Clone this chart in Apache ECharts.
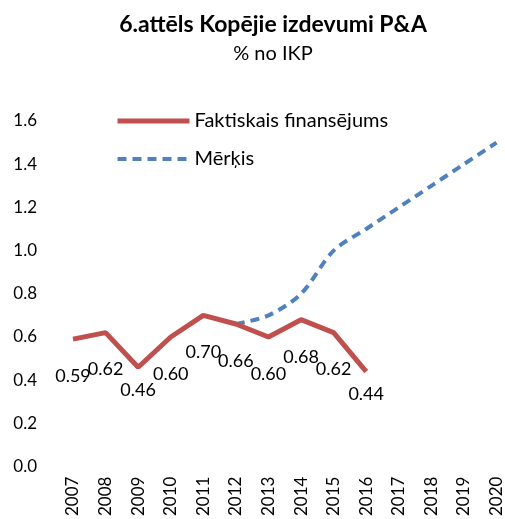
<!DOCTYPE html>
<html>
<head>
<meta charset="utf-8">
<script src="https://cdn.jsdelivr.net/npm/echarts@6/dist/echarts.min.js"></script>
<style>
  html, body { margin: 0; padding: 0; background: #fff; }
  #chart { width: 505px; height: 519px; }
</style>
</head>
<body>
<div id="chart"></div>
<script>
// 数据
const years = ["2007", "2008", "2009", "2010", "2011", "2012", "2013",
  "2014", "2015", "2016", "2017", "2018", "2019", "2020"];
const actual = [0.59, 0.62, 0.46, 0.60, 0.70, 0.66, 0.60, 0.68, 0.62, 0.44,
  null, null, null, null];
const target = [null, null, null, null, null, 0.66, 0.70, 0.80, 1.00, 1.10,
  1.20, 1.30, 1.40, 1.50];
const yTicks = [0, 0.2, 0.4, 0.6, 0.8, 1.0, 1.2, 1.4, 1.6];

const font = "Lato, 'Open Sans', sans-serif";
const chart = echarts.init(document.getElementById("chart"));

// 低点的标签离得近一些
const actualData = actual.map((v) => {
  if (v === null) return null;
  return {
    value: v,
    label: { distance: v < 0.5 ? 14 : 28 },
  };
});

chart.setOption({
  animation: false,
  title: [
    {
      text: "6.attēls Kopējie izdevumi P&A",
      left: 268,
      top: 8,
      textAlign: "center",
      textStyle: { fontFamily: font, fontSize: 23, fontWeight: "bold", color: "#000" },
    },
    {
      text: "% no IKP",
      left: 268,
      top: 39,
      textAlign: "center",
      textStyle: { fontFamily: font, fontSize: 20, fontWeight: "normal", color: "#000" },
    },
  ],
  legend: {
    orient: "vertical",
    left: 110,
    top: 106,
    itemWidth: 72,
    itemHeight: 14,
    itemGap: 18,
    textStyle: { fontFamily: font, fontSize: 20, color: "#000" },
    data: [
      { name: "Faktiskais finansējums", itemStyle: { opacity: 0 }, lineStyle: { width: 5 } },
      { name: "Mērķis", itemStyle: { opacity: 0 }, lineStyle: { width: 4 } },
    ],
  },
  grid: { left: 73, right: 8, top: 121, bottom: 48, containLabel: false },
  xAxis: {
    type: "category",
    data: years,
    boundaryGap: false,
    axisLine: { show: false },
    axisTick: { show: false },
    axisLabel: {
      rotate: 90,
      margin: 10,
      fontFamily: font,
      fontSize: 17,
      color: "#000",
    },
  },
  yAxis: {
    type: "value",
    min: 0,
    max: 1.6,
    interval: 0.2,
    splitLine: { show: false },
    axisLine: { show: false },
    axisTick: { show: false },
    axisLabel: {
      margin: 36,
      fontFamily: font,
      fontSize: 17,
      color: "#000",
      formatter: (v) => (yTicks.includes(Math.round(v * 10) / 10) ? v.toFixed(1) : ""),
    },
  },
  series: [
    {
      name: "Faktiskais finansējums",
      type: "line",
      data: actualData,
      symbol: "circle",
      symbolSize: 0,
      showSymbol: true,
      lineStyle: { color: "#C0504D", width: 5 },
      itemStyle: { color: "#C0504D" },
      label: {
        show: true,
        position: "bottom",
        fontFamily: font,
        fontSize: 18,
        color: "#000",
        formatter: (p) => p.value.toFixed(2),
      },
      labelLayout: { hideOverlap: false },
      z: 3,
    },
    {
      name: "Mērķis",
      type: "line",
      data: target,
      smooth: 0.3,
      symbol: "none",
      lineStyle: { color: "#4F81BD", width: 4, type: [9, 6] },
      itemStyle: { color: "#4F81BD" },
      z: 2,
    },
  ],
});
</script>
</body>
</html>
